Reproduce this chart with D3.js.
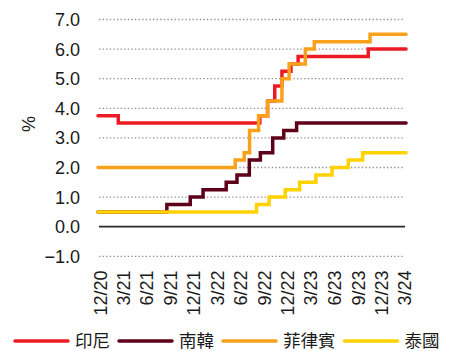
<!DOCTYPE html>
<html>
<head>
<meta charset="utf-8">
<script src="https://cdn.jsdelivr.net/npm/d3@7"></script>
<style>
  html, body { margin: 0; padding: 0; background: #fff; }
  svg { display: block; }
  text { font-family: "Liberation Sans", Arial, "Noto Sans CJK TC", sans-serif; fill: #1a1a1a; }
  .cjk { font-family: "Noto Sans CJK TC", "Noto Sans CJK SC", sans-serif; }
</style>
</head>
<body>
<svg id="chart" width="462" height="351"></svg>
<script>
// Policy rates (%), listed as the date each rate took effect
const seriesNames = ["印尼", "南韓", "菲律賓", "泰國"];
const seriesColors = ["#ED1C24", "#5E0019", "#F9A11B", "#FFD200"];

const indonesiaDates = ["2020-12-01", "2021-02-18", "2022-08-23", "2022-09-22", "2022-10-20", "2022-11-17", "2022-12-22", "2023-01-19", "2023-10-19"];
const indonesiaRates = [3.75, 3.50, 3.75, 4.25, 4.75, 5.25, 5.50, 5.75, 6.00];

const koreaDates = ["2020-12-01", "2021-08-26", "2021-11-25", "2022-01-14", "2022-04-14", "2022-05-26", "2022-07-13", "2022-08-25", "2022-10-12", "2022-11-24", "2023-01-13"];
const koreaRates = [0.50, 0.75, 1.00, 1.25, 1.50, 1.75, 2.25, 2.50, 3.00, 3.25, 3.50];

const philippinesDates = ["2020-12-01", "2022-05-19", "2022-06-23", "2022-07-14", "2022-08-18", "2022-09-22", "2022-11-17", "2022-12-15", "2023-02-16", "2023-03-23", "2023-10-26"];
const philippinesRates = [2.00, 2.25, 2.50, 3.25, 3.75, 4.25, 5.00, 5.50, 6.00, 6.25, 6.50];

const thailandDates = ["2020-12-01", "2022-08-10", "2022-09-28", "2022-11-30", "2023-01-25", "2023-03-29", "2023-05-31", "2023-08-02", "2023-09-27"];
const thailandRates = [0.50, 0.75, 1.00, 1.25, 1.50, 1.75, 2.00, 2.25, 2.50];

const lastDate = "2024-03-14";

const xTickLabels = ["12/20", "3/21", "6/21", "9/21", "12/21", "3/22", "6/22", "9/22", "12/22", "3/23", "6/23", "9/23", "12/23", "3/24"];
const yTicks = [-1, 0, 1, 2, 3, 4, 5, 6, 7];

const parse = d3.timeParse("%Y-%m-%d");
const parseTick = d3.timeParse("%m/%y");

function buildSeries(dates, rates) {
  const pts = dates.map((d, i) => ({ date: parse(d), value: rates[i] }));
  pts.push({ date: parse(lastDate), value: rates[rates.length - 1] });
  return pts;
}

const series = [
  buildSeries(indonesiaDates, indonesiaRates),
  buildSeries(koreaDates, koreaRates),
  buildSeries(philippinesDates, philippinesRates),
  buildSeries(thailandDates, thailandRates)
];

const svg = d3.select("#chart");

const x = d3.scaleTime()
  .domain([parse("2020-12-01"), parse("2024-03-01")])
  .range([98, 402.7]);

const y = d3.scaleLinear()
  .domain([-1, 7])
  .range([256.3, 19.5]);

const gridX0 = 99, gridX1 = 405;

// Horizontal gridlines (dotted), zero line solid
const grid = svg.append("g");
grid.selectAll("line")
  .data(yTicks)
  .join("line")
  .attr("x1", gridX0)
  .attr("x2", gridX1)
  .attr("y1", d => y(d))
  .attr("y2", d => y(d))
  .attr("stroke", d => d === 0 ? "#2a2a2a" : "#8c8c8c")
  .attr("stroke-width", d => d === 0 ? 1.8 : 1.3)
  .attr("stroke-dasharray", d => d === 0 ? null : "1.3,2.3");

// Y tick labels
svg.append("g").selectAll("text")
  .data(yTicks)
  .join("text")
  .attr("x", 80)
  .attr("y", d => y(d))
  .attr("dy", "0.36em")
  .attr("text-anchor", "end")
  .style("font-size", "18px")
  .text(d => d3.format(".1f")(d));

// Y axis title
svg.append("text")
  .attr("transform", "translate(34.5,124) rotate(-90)")
  .attr("text-anchor", "middle")
  .style("font-size", "18px")
  .text("%");

// X tick labels (rotated)
svg.append("g").selectAll("text")
  .data(xTickLabels)
  .join("text")
  .attr("transform", d => `translate(${x(parseTick(d)) + 8.7},270.5) rotate(-90)`)
  .attr("text-anchor", "end")
  .style("font-size", "18px")
  .text(d => d);

// Step lines
const line = d3.line()
  .x(d => x(d.date))
  .y(d => y(d.value))
  .curve(d3.curveStepAfter);

svg.append("g").selectAll("path")
  .data(series)
  .join("path")
  .attr("d", line)
  .attr("fill", "none")
  .attr("stroke", (d, i) => seriesColors[i])
  .attr("stroke-width", 3.5)
  .attr("stroke-linecap", "round")
  .attr("stroke-linejoin", "miter");

// Legend
const legend = svg.append("g");
let lx = 15;
const ly = 341;
seriesNames.forEach((name, i) => {
  legend.append("line")
    .attr("x1", lx).attr("x2", lx + 53)
    .attr("y1", ly).attr("y2", ly)
    .attr("stroke", seriesColors[i])
    .attr("stroke-width", 3.5)
    .attr("stroke-linecap", "round");
  const t = legend.append("text")
    .attr("class", "cjk")
    .attr("x", lx + 60)
    .attr("y", ly)
    .attr("dy", "0.36em")
    .style("font-size", "17.5px")
    .text(name);
  lx = lx + 60 + t.node().getComputedTextLength() + 9;
});
</script>
</body>
</html>
